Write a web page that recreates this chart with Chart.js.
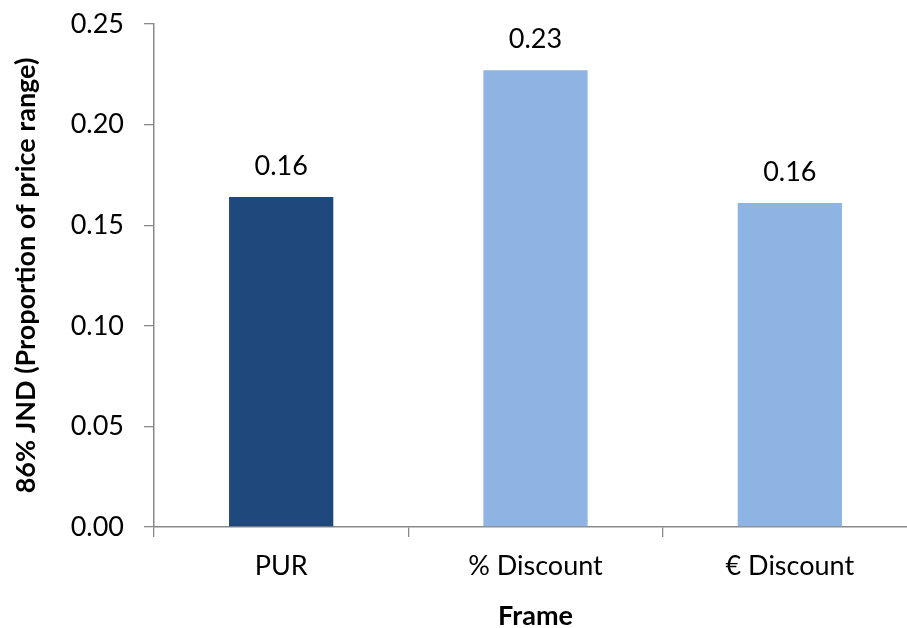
<!DOCTYPE html>
<html>
<head>
<meta charset="utf-8">
<script src="https://cdn.jsdelivr.net/npm/chart.js@4.4.1/dist/chart.umd.min.js"></script>
<style>
html,body{margin:0;padding:0;background:#fff;overflow:hidden;width:907px;height:628px;}
#wrap{width:920px;height:628px;position:relative;}
</style>
</head>
<body>
<div id="wrap"><canvas id="c" width="920" height="628"></canvas></div>
<script>
const categories = ["PUR", "% Discount", "€ Discount"];
const jndValues = [0.164, 0.227, 0.161];
const barColors = ["#1F497D", "#8EB4E3", "#8EB4E3"];
const yTicks = [0, 0.05, 0.10, 0.15, 0.20, 0.25];

const FONT = "Lato";
const FS = 27;

const valueLabels = {
  id: 'valueLabels',
  afterDatasetsDraw(chart) {
    const ctx = chart.ctx;
    const meta = chart.getDatasetMeta(0);
    ctx.save();
    ctx.font = FS + "px " + FONT;
    ctx.fillStyle = "#000";
    ctx.textAlign = "center";
    ctx.textBaseline = "middle";
    meta.data.forEach((bar, i) => {
      ctx.fillText(jndValues[i].toFixed(2), bar.x, bar.y - 31);
    });
    ctx.restore();
  }
};

new Chart(document.getElementById('c'), {
  type: 'bar',
  data: {
    labels: categories,
    datasets: [{
      data: jndValues,
      backgroundColor: barColors,
      borderWidth: 0,
      categoryPercentage: 1,
      barPercentage: 0.41
    }]
  },
  options: {
    responsive: false,
    animation: false,
    layout: { padding: { top: 24, right: 3, bottom: 0, left: 0 } },
    plugins: { legend: { display: false }, tooltip: { enabled: false } },
    scales: {
      x: {
        offset: true,
        grid: { display: true, offset: true, drawOnChartArea: false, drawTicks: true, tickLength: 10, color: "#898989", lineWidth: 1.3 },
        border: { display: true, color: "#898989", width: 1.5 },
        ticks: { color: "#000", font: { family: FONT, size: FS }, padding: 13, maxRotation: 0 },
        title: { display: true, text: "Frame", color: "#000", font: { family: FONT, size: FS, weight: "bold" }, padding: { top: 0, bottom: -4 } },
        afterFit(scale) { scale.height = 101; scale.paddingLeft = 0; scale.paddingRight = 0; }
      },
      y: {
        min: 0, max: 0.25,
        afterBuildTicks(scale) { scale.ticks = yTicks.map(v => ({ value: v })); },
        grid: { display: true, drawOnChartArea: false, drawTicks: true, tickLength: 10, color: "#898989", lineWidth: 1.3 },
        border: { display: true, color: "#898989", width: 1.5 },
        ticks: { color: "#000", font: { family: FONT, size: FS }, padding: 20, callback: v => Number(v).toFixed(2) },
        title: { display: true, text: "86% JND (Proportion of price range)", color: "#000", font: { family: FONT, size: FS, weight: "bold" }, padding: { top: 10, bottom: 0 } },
        afterFit(scale) { scale.width = 154; scale.paddingTop = 0; scale.paddingBottom = 0; }
      }
    }
  },
  plugins: [valueLabels]
});
</script>
</body>
</html>
